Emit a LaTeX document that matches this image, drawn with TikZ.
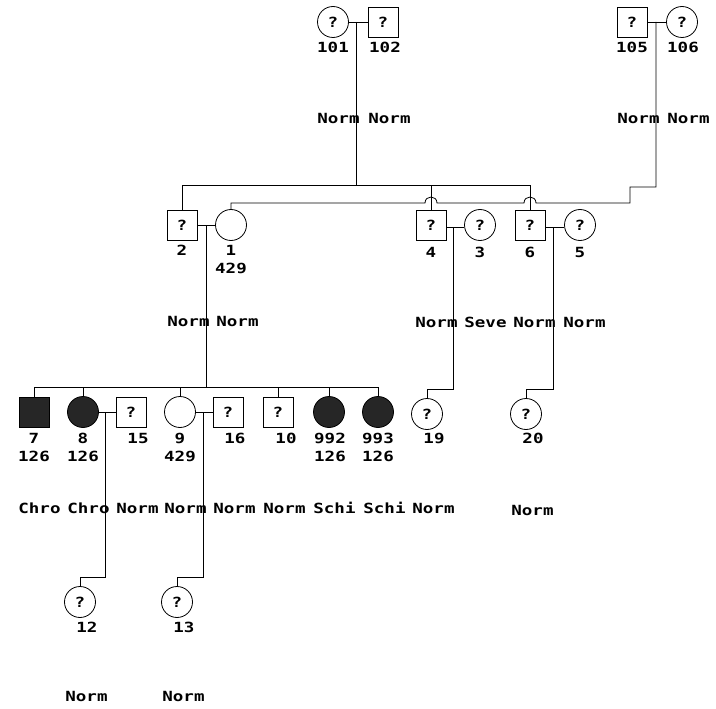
\documentclass[tikz,border=0pt]{standalone}
\usepackage{fontspec}
\newfontfamily\pix{DejaVu Sans Mono}[FakeStretch=1.25]
\begin{document}
\begin{tikzpicture}[x=1pt,y=-1pt,line width=0.8pt,
  txt/.style={font=\pix\bfseries\fontsize{14}{14}\selectfont},
  sq/.style={draw,rectangle,minimum size=30pt,inner sep=0pt,txt},
  ci/.style={draw,circle,minimum size=31pt,inner sep=0pt,txt},
  aff/.style={fill=black!85},
  lab/.style={txt,inner sep=0pt},
  tr/.style={txt,inner sep=0pt,anchor=west}]
\useasboundingbox (0,0) rectangle (716,709);
% generation 1
\node[ci] (n101) at (333,22) {?};
\node[sq] (n102) at (383,22) {?};
\node[sq] (n105) at (632,22) {?};
\node[ci] (n106) at (682,22) {?};
\node[lab] (l101) at (333,47) {101};
\node[lab] (l102) at (385,47) {102};
\node[lab] (l105) at (632,47) {105};
\node[lab] (l106) at (683,47) {106};
\node[tr] (t101) at (317,118) {Norm};
\node[tr] (t102) at (368,118) {Norm};
\node[tr] (t105) at (617,118) {Norm};
\node[tr] (t106) at (667,118) {Norm};
% generation 2
\node[sq] (n2) at (182,225) {?};
\node[ci] (n1) at (231,225) {};
\node[sq] (n4) at (431,225) {?};
\node[ci] (n3) at (480,225) {?};
\node[sq] (n6) at (530,225) {?};
\node[ci] (n5) at (580,225) {?};
\node[lab] (l2) at (182,250) {2};
\node[lab] (l1) at (231,250) {1};
\node[lab] (l1b) at (231,268) {429};
\node[lab] (l4) at (431,252) {4};
\node[lab] (l3) at (480,252) {3};
\node[lab] (l6) at (530,252) {6};
\node[lab] (l5) at (580,252) {5};
\node[tr] (t2) at (167,321) {Norm};
\node[tr] (t1) at (216,321) {Norm};
\node[tr] (t4) at (415,322) {Norm};
\node[tr] (t3) at (464,322) {Seve};
\node[tr] (t6) at (513,322) {Norm};
\node[tr] (t5) at (563,322) {Norm};
% generation 3
\node[sq,aff] (n7) at (34,412) {};
\node[ci,aff] (n8) at (83,412) {};
\node[sq] (n15) at (131,412) {?};
\node[ci] (n9) at (180,412) {};
\node[sq] (n16) at (228,412) {?};
\node[sq] (n10) at (278,412) {?};
\node[ci,aff] (n992) at (329,412) {};
\node[ci,aff] (n993) at (378,412) {};
\node[ci] (n19) at (427,414) {?};
\node[ci] (n20) at (526,414) {?};
\node[lab] (l7) at (34,438) {7};
\node[lab] (l8) at (83,438) {8};
\node[lab] (l15) at (138,438) {15};
\node[lab] (l9) at (180,438) {9};
\node[lab] (l16) at (235,438) {16};
\node[lab] (l10) at (286,438) {10};
\node[lab] (l992) at (330,438) {992};
\node[lab] (l993) at (378,438) {993};
\node[lab] (l19) at (434,438) {19};
\node[lab] (l20) at (533,438) {20};
\node[lab] (l7b) at (34,456) {126};
\node[lab] (l8b) at (83,456) {126};
\node[lab] (l9b) at (180,456) {429};
\node[lab] (l992b) at (330,456) {126};
\node[lab] (l993b) at (378,456) {126};
\node[tr] (t7) at (18,508) {Chro};
\node[tr] (t8) at (67,508) {Chro};
\node[tr] (t15) at (116,508) {Norm};
\node[tr] (t9) at (164,508) {Norm};
\node[tr] (t16) at (213,508) {Norm};
\node[tr] (t10) at (263,508) {Norm};
\node[tr] (t992) at (313,508) {Schi};
\node[tr] (t993) at (363,508) {Schi};
\node[tr] (t19) at (412,508) {Norm};
\node[tr] (t20) at (511,510) {Norm};
% generation 4
\node[ci] (n12) at (80,602) {?};
\node[ci] (n13) at (177,602) {?};
\node[lab] (l12) at (87,627) {12};
\node[lab] (l13) at (184,627) {13};
\node[tr] (t12) at (65,696) {Norm};
\node[tr] (t13) at (162,696) {Norm};
% junction points
\coordinate (m1) at (356,22);
\coordinate (s1) at (356,185);
\coordinate (m2) at (656,22);
\coordinate (m3) at (206,225);
\coordinate (s3) at (206,387);
\coordinate (m4) at (453,227);
\coordinate (m5) at (553,227);
\coordinate (m6) at (105,412);
\coordinate (m7) at (203,412);
% connectors
\draw (n101.east) -- (n102.west);
\draw (n105.east) -- (n106.west);
\draw (m1) -- (s1);
\draw (n2.north |- s1) -- (n6.north |- s1);
\draw (n2.north |- s1) -- (n2.north);
\draw (n4.north |- s1) -- (n4.north);
\draw (n6.north |- s1) -- (n6.north);
\draw (m2) -- (656,187) -- (630,187) -- (630,203) -- (536,203)
  .. controls (536,195) and (524,195) .. (524,203) -- (437,203)
  .. controls (437,195) and (425,195) .. (425,203) -- (n1.north |- 0,203) -- (n1.north);
\draw (n2.east) -- (n1.west);
\draw (m3) -- (s3);
\draw (n7.north |- s3) -- (n993.north |- s3);
\foreach \k in {n7,n8,n9,n10,n992,n993} \draw (\k.north |- s3) -- (\k.north);
\draw (n4.east |- m4) -- (n3.west |- m4);
\draw (m4) -- (453,389) -| (n19.north);
\draw (n6.east |- m5) -- (n5.west |- m5);
\draw (m5) -- (553,389) -| (n20.north);
\draw (n8.east) -- (n15.west);
\draw (m6) -- (105,577) -| (n12.north);
\draw (n9.east) -- (n16.west);
\draw (m7) -- (203,577) -| (n13.north);
\end{tikzpicture}
\end{document}
